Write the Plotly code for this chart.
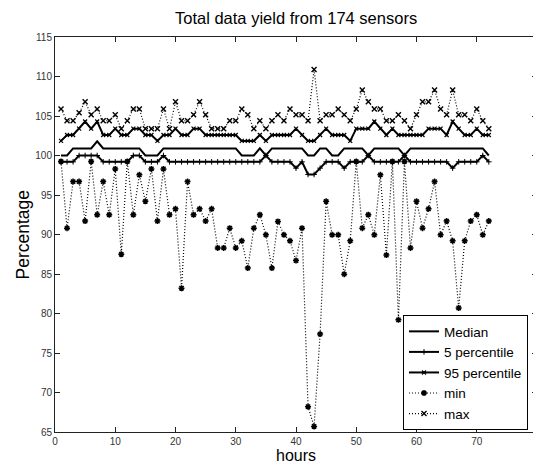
import plotly.graph_objects as go

hours = list(range(1, 73))

median = [100, 100, 100.9, 100.9, 100.9, 100.9, 101.8, 100.9, 100.9, 100.9,
          100.9, 100.9, 100.9, 100.9, 100, 100, 100, 100.9, 100.9, 100.9,
          100.9, 100.9, 100.9, 100.9, 100.9, 100.9, 100.9, 100.9, 100.9, 100.9,
          100, 100, 100, 100.9, 100, 100.9, 100.9, 100.9, 100.9, 100.9,
          100.9, 100, 100, 100.9, 100.9, 100, 100, 100.9, 100.9, 100.9,
          100.9, 100, 100.9, 100.9, 100.9, 100.9, 100.9, 100, 100.9, 100.9,
          100.9, 100.9, 100.9, 100.9, 100.9, 100.9, 100.9, 100.9, 100.9, 100.9,
          100.9, 100]

p5 = [99.2, 99.2, 99.2, 100, 100, 100, 100, 99.2, 99.2, 99.2,
      99.2, 99.2, 100, 100, 99.2, 99.2, 99.2, 100, 99.2, 99.2,
      99.2, 99.2, 99.2, 99.2, 99.2, 99.2, 99.2, 99.2, 99.2, 99.2,
      99.2, 99.2, 99.2, 99.2, 100, 99.2, 99.2, 99.2, 99.2, 98.4,
      99.2, 97.6, 97.6, 98.4, 99.2, 99.2, 99.2, 98.4, 99.2, 99.2,
      99.2, 100, 99.2, 99.2, 99.2, 99.2, 99.2, 100, 99.2, 99.2,
      99.2, 99.2, 99.2, 99.2, 99.2, 98.4, 99.2, 99.2, 99.2, 99.2,
      100, 99.2]

p95 = [101.85, 102.6, 102.6, 103.4, 104.3, 103.4, 104.3, 102.6, 102.6, 103.4,
       102.6, 102.6, 103.4, 103.4, 102.6, 102.6, 101.85, 102.6, 102.6, 103.4,
       102.6, 102.6, 103.4, 103.4, 102.6, 102.6, 102.6, 102.6, 102.6, 102.6,
       101.85, 101.85, 101.85, 102.6, 101.85, 102.6, 102.6, 102.6, 102.6, 103.4,
       102.6, 101.85, 101.85, 102.6, 103.4, 102.6, 102.6, 102.6, 101.85, 103.4,
       103.4, 103.4, 104.3, 103.4, 102.6, 103.4, 102.6, 102.6, 102.6, 102.6,
       102.6, 103.4, 103.4, 103.4, 102.6, 104.3, 103.4, 102.6, 102.6, 103.4,
       102.6, 102.6]

vmin = [99.24, 90.8, 96.7, 96.7, 91.7, 99.24, 92.5, 96.7, 92.5, 98.3,
        87.5, 99.24, 92.5, 97.55, 94.2, 98.3, 91.7, 98.3, 92.5, 93.25,
        83.2, 96.7, 92.5, 93.25, 91.7, 93.25, 88.3, 88.3, 90.8, 88.3,
        89.2, 85.75, 90.8, 92.5, 89.96, 85.75, 91.65, 89.96, 89.2, 86.7,
        90.8, 68.2, 65.7, 77.4, 94.2, 89.96, 89.96, 84.98, 89.2, 99.24,
        90.8, 92.5, 89.96, 97.55, 87.4, 99.24, 79.2, 99.24, 88.3, 94.2,
        90.8, 93.25, 96.7, 89.96, 91.7, 89.2, 80.7, 89.2, 91.7, 92.5,
        89.96, 91.7]

vmax = [105.9, 104.4, 104.4, 105.4, 106.8, 105.15, 105.9, 104.4, 104.4, 105.15,
        103.4, 104.4, 105.9, 105.9, 103.4, 103.4, 103.4, 105.9, 103.4, 106.8,
        104.4, 104.4, 105.15, 106.8, 105.15, 103.4, 103.4, 103.4, 104.4, 104.4,
        105.9, 105.15, 103.4, 104.4, 103.4, 104.4, 105.15, 104.4, 105.9, 105.15,
        105.15, 104.4, 110.9, 104.4, 105.15, 105.15, 105.9, 105.15, 104.4, 105.9,
        108.3, 106.8, 105.9, 105.9, 104.4, 104.4, 105.15, 104.4, 103.4, 105.15,
        106.8, 106.8, 108.3, 105.9, 105.15, 108.3, 105.15, 105.15, 104.4, 105.9,
        104.4, 103.4]

x_ticks = list(range(0, 81, 10))
y_ticks = list(range(65, 116, 5))

FONT = "Arial, Liberation Sans, sans-serif"
DOT = "1px,2px"

fig = go.Figure()
fig.add_trace(go.Scatter(x=hours, y=median, name="Median", mode="lines",
                         line=dict(color="black", width=2)))
fig.add_trace(go.Scatter(x=hours, y=p5, name="5 percentile", mode="lines+markers",
                         line=dict(color="black", width=2),
                         marker=dict(symbol="cross-thin", size=4, color="black",
                                     line=dict(color="black", width=1))))
fig.add_trace(go.Scatter(x=hours, y=p95, name="95 percentile", mode="lines+markers",
                         line=dict(color="black", width=2),
                         marker=dict(symbol="x-thin", size=4, color="black",
                                     line=dict(color="black", width=1.2))))
fig.add_trace(go.Scatter(x=hours, y=vmin, name="min", mode="lines+markers",
                         line=dict(color="black", width=1.2, dash=DOT),
                         marker=dict(symbol="asterisk", size=5, color="black",
                                     line=dict(color="black", width=1.5))))
fig.add_trace(go.Scatter(x=hours, y=vmax, name="max", mode="lines+markers",
                         line=dict(color="black", width=1.2, dash=DOT),
                         marker=dict(symbol="x-thin", size=5, color="black",
                                     line=dict(color="black", width=1.4))))

axis_common = dict(showline=True, linecolor="#222", linewidth=1, mirror="ticks",
                   ticks="inside", ticklen=5, tickcolor="#222", showgrid=False,
                   zeroline=False, automargin=False,
                   tickfont=dict(family=FONT, size=10, color="#333"))

# page body has an 8px margin: figure is 533x457 so the plot lands at x 55-537, y 37-432
fig.update_layout(
    width=533, height=457,
    margin=dict(l=47, r=4, t=29, b=33, autoexpand=False),
    paper_bgcolor="white", plot_bgcolor="white",
    xaxis=dict(range=[0, 80], tickvals=x_ticks, **axis_common),
    yaxis=dict(range=[65, 115], tickvals=y_ticks, **axis_common),
    legend=dict(x=0.722, y=0.296, xanchor="left", yanchor="top",
                bgcolor="white", bordercolor="black", borderwidth=1,
                font=dict(family=FONT, size=13.5, color="black"),
                tracegroupgap=0, itemwidth=30),
    showlegend=True,
    annotations=[
        dict(text="Total data yield from 174 sensors", xref="paper", yref="paper",
             x=0.5, y=1, yshift=19, xanchor="center", yanchor="middle",
             showarrow=False, font=dict(family=FONT, size=16.5, color="black")),
        dict(text="hours", xref="paper", yref="paper", x=0.5, y=0, yshift=-23,
             xanchor="center", yanchor="middle", showarrow=False,
             font=dict(family=FONT, size=16, color="black")),
        dict(text="Percentage", xref="paper", yref="paper", x=0, y=0.5, xshift=-33,
             xanchor="center", yanchor="middle", textangle=-90, showarrow=False,
             font=dict(family=FONT, size=17.5, color="black")),
    ],
)

fig.write_html("out.html")
